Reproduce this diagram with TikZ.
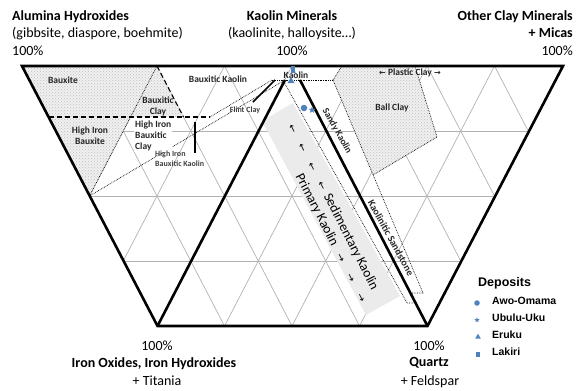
\documentclass[tikz,border=0pt]{standalone}
\usepackage{fontspec}
\setmainfont{Carlito}
\newfontfamily\legendfont{Liberation Sans}
\newfontfamily\arrowfont{DejaVu Sans}
\usetikzlibrary{patterns,shapes.geometric}
\definecolor{mkblue}{RGB}{79,129,189}
\newcommand{\larr}{{\arrowfont\fontsize{10}{12}\selectfont ←}}
\newcommand{\rarr}{{\arrowfont\fontsize{10}{12}\selectfont →}}
\begin{document}
\begin{tikzpicture}[x=1pt,y=-1pt,
  gridline/.style={draw=black!30, line width=0.7pt},
  frameline/.style={line width=2.6pt},
  dotline/.style={densely dotted, line width=0.7pt},
  dashline/.style={dash pattern=on 5pt off 3pt, line width=1.1pt},
  leader/.style={line width=1.6pt},
  title/.style={font=\fontsize{14}{16}\selectfont\bfseries, inner sep=0, anchor=base},
  sub/.style={font=\fontsize{14}{16}\selectfont, inner sep=0, anchor=base},
  lab/.style={font=\fontsize{9.5}{11}\selectfont\bfseries, text=black!85, inner sep=0},
  smalllab/.style={font=\fontsize{8}{9.5}\selectfont\bfseries, text=black!75, inner sep=0},
  bandlab/.style={font=\fontsize{13.5}{15}\selectfont, rotate=-63, inner sep=0},
  legtitle/.style={font=\legendfont\fontsize{12.5}{14}\selectfont\bfseries, inner sep=0, anchor=west},
  legitem/.style={font=\legendfont\fontsize{10.5}{12}\selectfont\bfseries, inner sep=0, anchor=west},
  stipple/.style={fill=black!6, postaction={pattern=crosshatch dots, pattern color=black!25}},
  band/.style={fill=black!8}
]
\path[use as bounding box] (0,0) rectangle (582,391);
% vertices
\coordinate (TL) at (22,66);
\coordinate (K) at (292.5,66);
\coordinate (TR) at (563,66);
\coordinate (BL) at (157.5,326);
\coordinate (BR) at (427.5,326);
\coordinate (KL) at (285,80);
\coordinate (KR) at (300,80);
% grid
\begin{scope}
\clip (TL)--(TR)--(BR)--(BL)--cycle;
\foreach \k in {-4,...,8} \draw[gridline] ({22+67.5*\k},66) -- ({22+67.5*\k+135},326);
\foreach \k in {0,...,12} \draw[gridline] ({22+67.5*\k},66) -- ({22+67.5*\k-135},326);
\foreach \j in {1,2,3} \draw[gridline] ({22+33.75*\j},{66+65*\j}) -- ({563-33.75*\j},{66+65*\j});
\end{scope}
% stippled bauxite region
\coordinate (P1) at (157,66);
\coordinate (P2) at (183.5,117);
\coordinate (P3) at (130.5,117);
\coordinate (P4) at (89.5,196);
\coordinate (P5) at (48.5,117);
\coordinate (P6) at (210,117);
\fill[stipple] (TL)--(P1)--(P2)--(P3)--(P4)--cycle;
% ball clay
\coordinate (B1) at (333,80);
\coordinate (B2) at (342,66);
\coordinate (B3) at (415,66);
\coordinate (B4) at (437,137);
\coordinate (B5) at (373,175);
\fill[stipple] (B1)--(B2)--(B3)--(B4)--(B5)--cycle;
\draw[dotline] (B1)--(B2) (B3)--(B4)--(B5);
% sedimentary band
\coordinate (S1) at (262,121);
\coordinate (S2) at (293,103);
\coordinate (S3) at (400,296);
\coordinate (S4) at (366,315);
\fill[band] (S1)--(S2)--(S3)--(S4)--cycle;
% dotted boundaries
\draw[dotline] (P1)--(P4);
\draw[dotline] (P4)--(KL);
\draw[dotline] (P6)--(272,80);
\draw[dotline] (272,80)--(B1);
\coordinate (L1a) at (284,82);
\coordinate (L1b) at (407,303);
\draw[dotline] (L1a)--(L1b)--(413,303);
\coordinate (L2b) at (423,293);
\draw[dotline] (B1)--(L2b)--(412,293);
% dashed
\draw[dashline] (P5)--(P6);
\draw[dashline] (P1)--(P2);
% frame
\draw[frameline] (TL)--(TR)--(BR)--(BL)--cycle;
\draw[frameline] (KL)--(BL);
\draw[frameline] (KR)--(BR);
% leaders
\draw[leader] (253,102)--(275,80);
\draw[leader] (195,122)--(195,153);
% region labels
\node[lab] (lbx) at (63,80) {Bauxite};
\node[lab, align=center] (lhib) at (90,135.5) {High Iron\\Bauxite};
\node[lab, align=center] (lbc) at (158,106) {Bauxitic\\Clay};
\node[lab, align=left, anchor=north west, fill=white, inner sep=1pt] (lhibc) at (134,120) {High Iron\\Bauxitic\\Clay};
\node[lab] (lbk) at (218,79) {Bauxitic Kaolin};
\node[smalllab] (lfc) at (245,110) {Flint Clay};
\node[smalllab, align=left, anchor=north west] (lhibk) at (155,151) {High Iron\\Bauxitic Kaolin};
\node[lab] (lk) at (296,75) {Kaolin};
\node[lab] (lbc2) at (392,108) {Ball Clay};
\node[lab] (lpc) at (410,73) {{\arrowfont\fontsize{8}{9}\selectfont ←} Plastic Clay {\arrowfont\fontsize{8}{9}\selectfont →}};
\node[lab, rotate=-61] (lsk) at (337,131) {Sandy Kaolin};
\node[lab, font=\fontsize{10}{11}\selectfont\bfseries, rotate=-61] (lks) at (391,238) {Kaolinitic Sandstone};
% band texts
\node[bandlab] (lsed) at (333,207) {\larr\hspace{13pt}\larr\hspace{13pt}\larr\hspace{13pt}\larr\hspace{6pt}Sedimentary Kaolin};
\node[bandlab] (lpri) at (331,238) {Primary Kaolin\hspace{10pt}\rarr\hspace{14pt}\rarr\hspace{14pt}\rarr};
% markers at kaolin
\node[rectangle, fill=mkblue, minimum width=4.5pt, minimum height=7pt, inner sep=0] (m4) at (293,69) {};
\node[regular polygon, regular polygon sides=3, fill=mkblue, minimum size=8pt, inner sep=0] (m3) at (291,81) {};
\node[circle, fill=mkblue, minimum size=6.5pt, inner sep=0] (m1) at (304,108) {};
\node[star, star points=5, star point ratio=2.3, fill=mkblue, minimum size=7pt, inner sep=0] (m2) at (312,110) {};
% titles
\node[title, anchor=base west] (t1) at (12,20) {Alumina Hydroxides};
\node[sub, anchor=base west] (t1b) at (12,37.5) {(gibbsite, diaspore, boehmite)};
\node[sub, anchor=base west] (t1c) at (12,55) {100\%};
\node[title] (t2) at (292,20) {Kaolin Minerals};
\node[sub] (t2b) at (292,37.5) {(kaolinite, halloysite…)};
\node[sub] (t2c) at (292,55) {100\%};
\node[title, anchor=base east] (t3) at (573,20) {Other Clay Minerals};
\node[title, anchor=base east] (t3b) at (573,37.5) {+ Micas};
\node[sub, anchor=base east] (t3c) at (573,55) {100\%};
\node[sub] (t4) at (157,350) {100\%};
\node[title] (t4b) at (154,367.5) {Iron Oxides, Iron Hydroxides};
\node[sub] (t4c) at (157,385) {+ Titania};
\node[sub] (t5) at (429,350) {100\%};
\node[title] (t5b) at (429,366) {Quartz};
\node[sub] (t5c) at (430,385) {+ Feldspar};
% legend
\node[legtitle] (dep) at (478,283) {Deposits};
\node[circle, fill=mkblue, minimum size=5.5pt, inner sep=0] (g1) at (477,303) {};
\node[legitem] (d1) at (492,301) {Awo-Omama};
\node[star, star points=5, star point ratio=2.3, fill=mkblue, minimum size=5.5pt, inner sep=0] (g2) at (477,320) {};
\node[legitem] (d2) at (492,318) {Ubulu-Uku};
\node[regular polygon, regular polygon sides=3, fill=mkblue, minimum size=6.5pt, inner sep=0] (g3) at (478,337) {};
\node[legitem] (d3) at (492,335) {Eruku};
\node[rectangle, fill=mkblue, minimum width=4pt, minimum height=5pt, inner sep=0] (g4) at (478,354) {};
\node[legitem] (d4) at (492,352) {Lakiri};
\end{tikzpicture}
\end{document}
